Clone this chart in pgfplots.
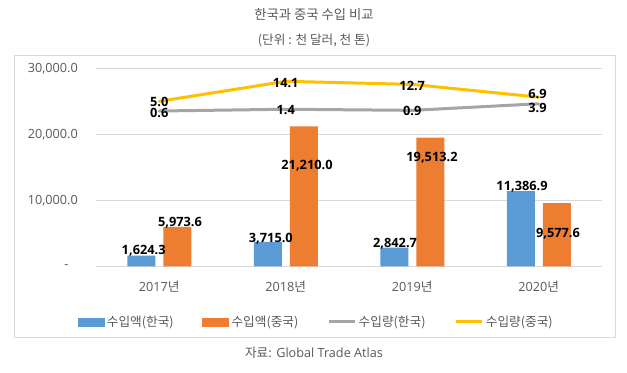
\documentclass[border=0pt]{standalone}
\usepackage{pgfplots}
\pgfplotsset{compat=1.18}
\usepackage{fontspec}
\setmainfont{Open Sans}
\newfontfamily\kr{Noto Sans CJK KR}
\definecolor{cBlue}{HTML}{5B9BD5}
\definecolor{cOrange}{HTML}{ED7D31}
\definecolor{cGray}{HTML}{A5A5A5}
\definecolor{cYellow}{HTML}{FFC000}
\definecolor{gridgray}{HTML}{D9D9D9}
\definecolor{txt}{HTML}{595959}
\begin{document}
\begin{tikzpicture}
\path[use as bounding box] (0,0) rectangle (470.25pt,279.75pt);
\draw[gridgray, line width=0.75pt] (10.5pt,26.25pt) rectangle (461.25pt,237.75pt);
\node[font=\kr\fontsize{10}{12}\selectfont\color{txt}] at (235.5pt,268.5pt) {한국과 중국 수입 비교};
\node[font=\kr\fontsize{9.5}{12}\selectfont\color{txt}] at (235.5pt,249pt) {(단위 : 천 달러, 천 톤)};
\node[font=\fontsize{9.5}{12}\selectfont\color{txt}] at (235.5pt,15pt) {{\kr 자료:} Global Trade Atlas};
\begin{axis}[
  at={(72pt,80pt)}, anchor=south west, scale only axis,
  width=379.5pt, height=148.5pt,
  xmin=-0.5, xmax=3.5, ymin=0, ymax=30000,
  axis line style={draw=none}, major tick length=0pt,
  xtick={0,1,2,3},
  xticklabels={2017{\kr 년},2018{\kr 년},2019{\kr 년},2020{\kr 년}},
  ytick={0,10000,20000,30000},
  yticklabels={{-\hspace*{7pt}},{10,000.0},{20,000.0},{30,000.0}},
  ymajorgrids, grid style={gridgray, line width=0.75pt},
  tick label style={font=\fontsize{9.5}{11}\selectfont, text=txt},
  yticklabel style={anchor=east, inner sep=0pt, xshift=-13.5pt},
  xticklabel style={anchor=center, inner sep=0pt, yshift=-15.5pt},
  scaled y ticks=false, clip=false,
]
\addplot[ybar, bar width=21pt, bar shift=-13.5pt, fill=cBlue, draw=none]
  coordinates {(0,1624.3) (1,3715.0) (2,2842.7) (3,11386.9)};
\addplot[ybar, bar width=21pt, bar shift=13.5pt, fill=cOrange, draw=none]
  coordinates {(0,5973.6) (1,21210.0) (2,19513.2) (3,9577.6)};
\addplot[draw=none, mark=none, nodes near coords, point meta=explicit symbolic,
  nodes near coords style={anchor=center, font=\bfseries\fontsize{9.6}{12}\selectfont, text=black, text height=7pt, text depth=0pt, inner sep=0pt}]
  table[meta=lab, row sep=\\] {
x y lab\\
-0.123 2470 1,624.3\\
0.164 6757 5,973.6\\
0.882 4242 3,715.0\\
1.168 15347 21,210.0\\
1.864 3575 2,842.7\\
2.156 16604 19,513.2\\
2.868 12165 11,386.9\\
3.152 5090 9,577.6\\
};
\end{axis}
\begin{axis}[
  at={(72pt,80pt)}, anchor=south west, scale only axis,
  width=379.5pt, height=148.5pt,
  xmin=-0.5, xmax=3.5, ymin=-70, ymax=20,
  hide axis, clip=false,
  legend columns=4,
  legend style={at={(0.4358,-0.281)}, anchor=center, draw=none, fill=none,
    font=\kr\fontsize{9.5}{11}\selectfont\color{txt},
    /tikz/every even column/.append style={column sep=19.5pt}},
]
\addlegendimage{legend image code/.code={\fill[cBlue] (0pt,-3pt) rectangle (19.5pt,3pt);}}
\addlegendentry{수입액(한국)}
\addlegendimage{legend image code/.code={\fill[cOrange] (0pt,-3pt) rectangle (19.5pt,3pt);}}
\addlegendentry{수입액(중국)}
\addlegendimage{legend image code/.code={\draw[cGray, line width=2.25pt] (0pt,0pt) -- (19.5pt,0pt);}}
\addlegendentry{수입량(한국)}
\addlegendimage{legend image code/.code={\draw[cYellow, line width=2.25pt] (0pt,0pt) -- (19.5pt,0pt);}}
\addlegendentry{수입량(중국)}
\addplot[cGray, line width=2.25pt, line cap=round, line join=round, mark=none, forget plot]
  coordinates {(0,0.6) (1,1.4) (2,0.9) (3,3.9)};
\addplot[cYellow, line width=2.25pt, line cap=round, line join=round, mark=none, forget plot]
  coordinates {(0,5.0) (1,14.1) (2,12.7) (3,6.9)};
\addplot[draw=none, mark=none, forget plot, nodes near coords, point meta=explicit symbolic,
  nodes near coords style={anchor=center, font=\bfseries\fontsize{9.6}{12}\selectfont, text=black, text height=7pt, text depth=0pt, inner sep=0pt}]
  table[meta=lab, row sep=\\] {
x y lab\\
0 4.82 5.0\\
0 -0.45 0.6\\
1 13.45 14.1\\
1 1.05 1.4\\
2 12.09 12.7\\
2 0.59 0.9\\
2.99 8.32 6.9\\
2.99 2.09 3.9\\
};
\end{axis}
\end{tikzpicture}
\end{document}
